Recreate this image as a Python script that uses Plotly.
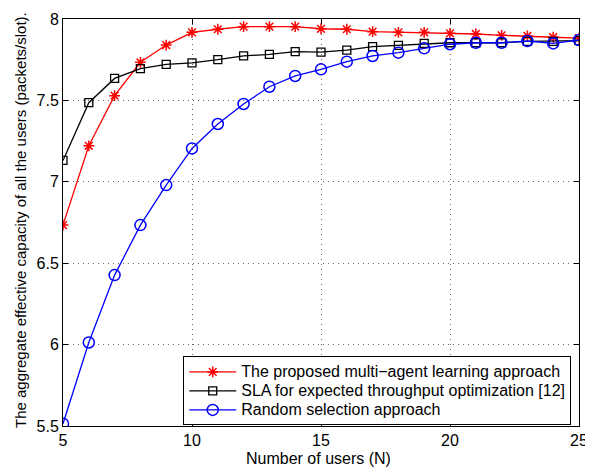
import plotly.graph_objects as go

users = list(range(5, 26))
proposed = [6.734, 7.221, 7.529, 7.734, 7.840, 7.918, 7.937, 7.953, 7.953, 7.953, 7.940,
            7.937, 7.922, 7.918, 7.918, 7.912, 7.908, 7.900, 7.896, 7.888, 7.883]
sla = [7.131, 7.486, 7.635, 7.695, 7.721, 7.731, 7.750, 7.773, 7.783, 7.799, 7.797,
       7.809, 7.830, 7.838, 7.850, 7.854, 7.854, 7.854, 7.863, 7.863, 7.867]
random_sel = [5.514, 6.013, 6.427, 6.734, 6.980, 7.205, 7.355, 7.478, 7.584, 7.650, 7.691,
              7.738, 7.773, 7.793, 7.820, 7.845, 7.854, 7.854, 7.865, 7.850, 7.871]

names = ["The proposed multi\u2212agent learning approach",
         "SLA for expected throughput optimization [12]",
         "Random selection approach"]
x_title = "Number of users (N)"
y_title = "The aggregate effective capacity of all the users (packets/slot)."


def legend_label(s):
    return '<span style="font-size:16px">' + s + '</span>'


fig = go.Figure()
fig.add_trace(go.Scatter(x=users, y=proposed, name=legend_label(names[0]), mode="lines+markers",
                         line=dict(color="#ff0000", width=1.3),
                         marker=dict(symbol="asterisk-open", size=9, color="#ff0000",
                                     line=dict(color="#ff0000", width=1.5))))
fig.add_trace(go.Scatter(x=users, y=sla, name=legend_label(names[1]), mode="lines+markers",
                         line=dict(color="#000000", width=1.3),
                         marker=dict(symbol="square-open", size=8, color="#000000",
                                     line=dict(color="#000000", width=1.3))))
fig.add_trace(go.Scatter(x=users, y=random_sel, name=legend_label(names[2]), mode="lines+markers",
                         line=dict(color="#0000ff", width=1.3),
                         marker=dict(symbol="circle-open", size=11, color="#0000ff",
                                     line=dict(color="#0000ff", width=1.5))))

axis_common = dict(showline=True, linecolor="black", linewidth=1, mirror="ticks",
                   ticks="inside", ticklen=5, tickcolor="black",
                   showgrid=True, gridcolor="rgba(0,0,0,0.6)", griddash="1px,4px", gridwidth=1,
                   zeroline=False, tickfont=dict(size=16, color="black"),
                   automargin=False, ticklabeloverflow="allow")

# the page body has an 8px default margin, so the figure is sized to fill the rest
fig.update_layout(
    width=585, height=460,
    margin=dict(l=55, r=14, t=11, b=42),
    paper_bgcolor="white", plot_bgcolor="white",
    font=dict(family="Liberation Sans, Arial, sans-serif", size=16, color="black"),
    xaxis=dict(range=[5, 25], tickvals=[5, 10, 15, 20, 25], **axis_common),
    yaxis=dict(range=[5.5, 8], tickvals=[5.5, 6, 6.5, 7, 7.5, 8],
               ticktext=["5.5", "6", "6.5", "7", "7.5", "8"], **axis_common),
    legend=dict(x=0.233, y=0.171, xanchor="left", yanchor="top",
                bgcolor="white", bordercolor="black", borderwidth=1,
                font=dict(size=12), tracegroupgap=0, itemwidth=47),
    showlegend=True,
    annotations=[
        dict(text=x_title, xref="paper", yref="paper", x=0.496, y=-0.079,
             xanchor="center", yanchor="middle", showarrow=False, font=dict(size=16)),
        dict(text=y_title, xref="paper", yref="paper", x=-0.0834, y=0.506,
             xanchor="center", yanchor="middle", showarrow=False, textangle=-90,
             font=dict(size=15)),
    ],
)

fig.write_html("out.html")
